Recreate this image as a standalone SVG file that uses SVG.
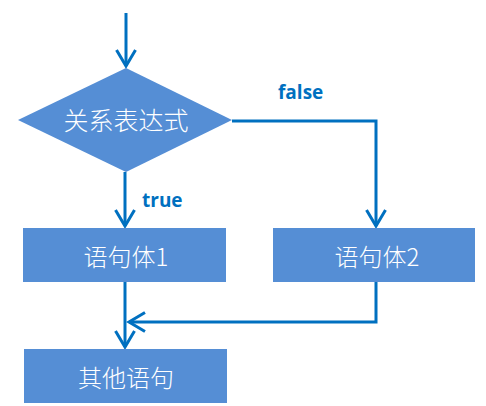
<svg xmlns="http://www.w3.org/2000/svg" width="486" height="406" viewBox="0 0 486 406">
<style>
.shape{fill:#558ed5;stroke:none}
.lbl{font-family:"Noto Sans CJK SC","Noto Sans",sans-serif;font-weight:300;fill:#ffffff;text-anchor:middle;dominant-baseline:central}
.edge{fill:none;stroke:#0070c0;stroke-width:3;stroke-linejoin:miter}
.elbl{font-family:"Open Sans","Liberation Sans",sans-serif;font-weight:bold;font-size:19px;fill:#0070c0}
</style>
<defs>
<marker id="arr" markerUnits="userSpaceOnUse" markerWidth="24" markerHeight="24" viewBox="-20 -12 24 24" refX="0" refY="0" orient="auto">
<path d="M-16,-9.5 L0,0 L-16,9.5" fill="none" stroke="#0070c0" stroke-width="3" stroke-linejoin="miter"/>
</marker>
</defs>
<rect width="486" height="406" fill="#ffffff"/>
<g id="connectors">
<path class="edge" d="M126,13 V66" marker-end="url(#arr)"/>
<path class="edge" d="M232,121 H376 V226" marker-end="url(#arr)"/>
<path class="edge" d="M125,172 V226" marker-end="url(#arr)"/>
<path class="edge" d="M125,282 V347" marker-end="url(#arr)"/>
<path class="edge" d="M376,282 V322 H129" marker-end="url(#arr)"/>
<text class="elbl" x="278" y="99">false</text>
<text class="elbl" x="142" y="207">true</text>
</g>
<g id="cond">
<polygon class="shape" points="126,68 232,120 126,172 18,120"/>
<text class="lbl" x="126" y="119" font-size="25">关系表达式</text>
</g>
<g id="stmt1">
<rect class="shape" x="23" y="228" width="203" height="54"/>
<text class="lbl" x="126" y="255" font-size="24">语句体1</text>
</g>
<g id="stmt2">
<rect class="shape" x="273" y="228" width="202" height="54"/>
<text class="lbl" x="377" y="255" font-size="24">语句体2</text>
</g>
<g id="other">
<rect class="shape" x="24" y="349" width="203" height="54"/>
<text class="lbl" x="126" y="376" font-size="24">其他语句</text>
</g>
</svg>
